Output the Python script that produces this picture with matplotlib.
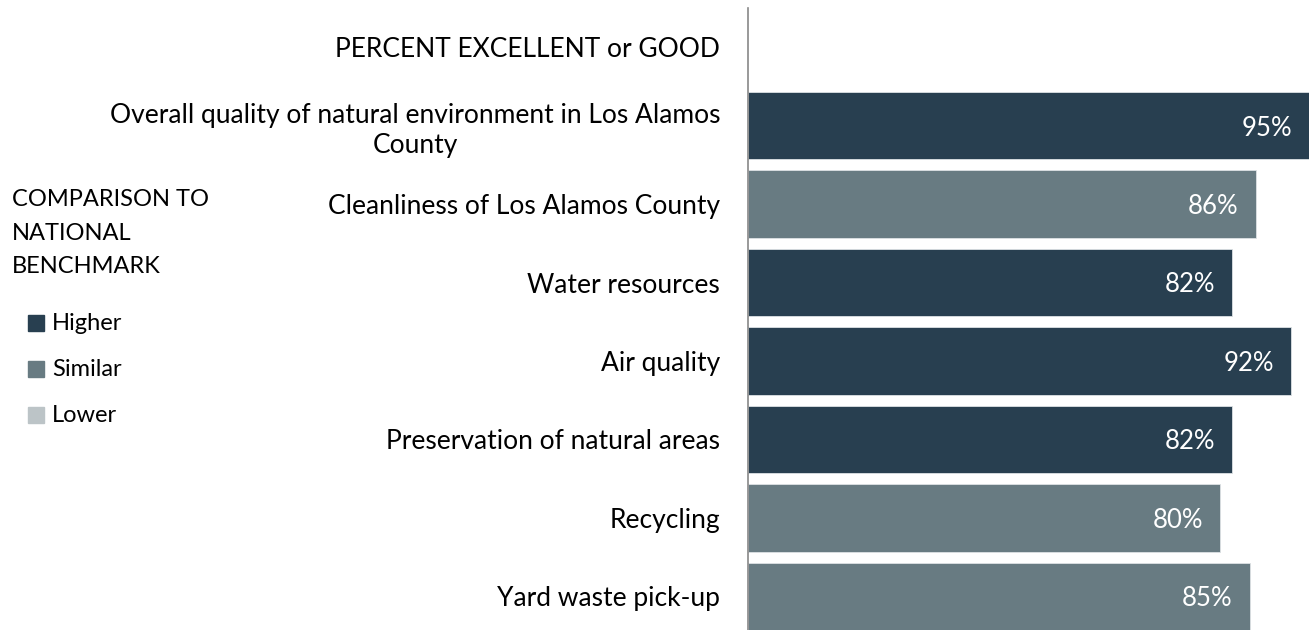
import matplotlib.pyplot as plt
from matplotlib.patches import Rectangle

categories = [
    'Overall quality of natural environment in Los Alamos\nCounty',
    'Cleanliness of Los Alamos County',
    'Water resources',
    'Air quality',
    'Preservation of natural areas',
    'Recycling',
    'Yard waste pick-up',
]
values = [95, 86, 82, 92, 82, 80, 85]
comparison = ['Higher', 'Similar', 'Higher', 'Higher', 'Higher', 'Similar', 'Similar']

legend_labels = ['Higher', 'Similar', 'Lower']
colors = {'Higher': '#283f50', 'Similar': '#687b82', 'Lower': '#bcc4c7'}

plt.rcParams['font.family'] = ['Lato', 'DejaVu Sans']

fig = plt.figure(figsize=(13.09, 6.30), dpi=100)
W, H = 1309, 630
ax = fig.add_axes([748 / W, 0, 1 - 748 / W, 1 - 8 / H])

rows = list(range(1, len(categories) + 1))
bar_colors = [colors[c] for c in comparison]
ax.barh(rows, values, height=0.86, color=bar_colors, edgecolor='#dde2e4', linewidth=0.6)
for y, v in zip(rows, values):
    ax.text(v - 2.9, y + 0.03, f'{v}%', ha='right', va='center', color='white', fontsize=18.5)

ax.set_xlim(0, 95)
ax.set_ylim(7.43, -0.5)
ax.set_yticks([0] + rows)
ax.set_yticklabels(['PERCENT EXCELLENT or GOOD'] + categories, fontsize=19, linespacing=1.25)
for t in ax.get_yticklabels():
    t.set_multialignment('center')
ax.tick_params(axis='y', length=0, pad=20)
ax.set_xticks([])
for s in ['top', 'right', 'bottom']:
    ax.spines[s].set_visible(False)
ax.spines['left'].set_color('#888888')
ax.spines['left'].set_linewidth(1.2)

fig.text(12 / W, 1 - 233 / H, 'COMPARISON TO\nNATIONAL\nBENCHMARK', ha='left', va='center',
         fontsize=17, linespacing=1.75)
for i, lab in enumerate(legend_labels):
    yc = 323 + i * 46
    fig.patches.append(Rectangle((28 / W, 1 - (yc + 8) / H), 16 / W, 16 / H,
                                 transform=fig.transFigure, color=colors[lab]))
    fig.text(52 / W, 1 - yc / H, lab, ha='left', va='center', fontsize=17)

fig.savefig('out.png', dpi=100)
